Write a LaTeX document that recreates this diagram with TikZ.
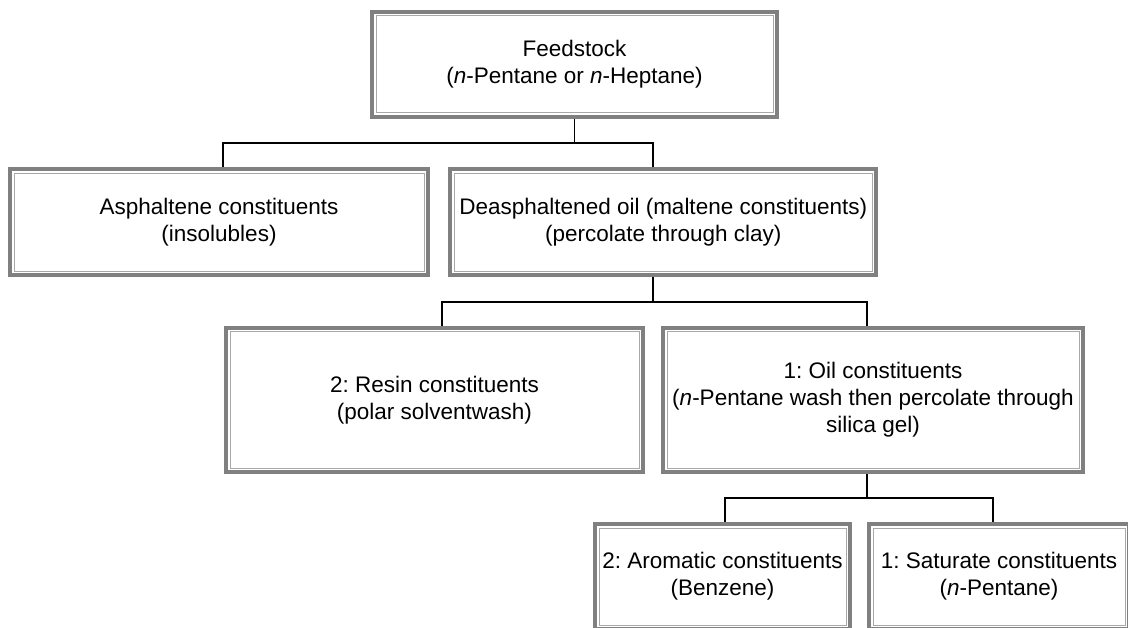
\documentclass[tikz,border=0pt]{standalone}
\usepackage{fontspec}
\setmainfont{Liberation Sans}
\frenchspacing
\definecolor{outergray}{HTML}{808080}
\definecolor{innergray}{HTML}{A8A8A8}
\pgfdeclarelayer{background}
\pgfsetlayers{background,main}
\tikzset{
  box/.style={draw=outergray, line width=4pt, inner sep=0pt, align=center,
    font=\fontsize{22.5}{27}\selectfont, text=black,
    path picture={\draw[innergray, line width=1pt]
      ([shift={(4pt,-4pt)}]path picture bounding box.north west) rectangle
      ([shift={(-4pt,4pt)}]path picture bounding box.south east);}},
  link/.style={draw=black, line width=1.1pt}
}
\begin{document}
\begin{tikzpicture}[x=1pt,y=-1pt]
\useasboundingbox (0,0) rectangle (1128,628);
\clip (0,0) rectangle (1128,628);
\node[box, minimum width=405pt, minimum height=105pt] (feed) at (574.5,64.5)
  {Feedstock\\(\textit{n}-Pentane or \textit{n}-Heptane)};
\node[box, minimum width=418pt, minimum height=106pt] (asph) at (219,222.5)
  {Asphaltene constituents\\(insolubles)};
\node[box, minimum width=426pt, minimum height=106pt] (deas) at (663.3,222.5)
  {Deasphaltened oil (maltene constituents)\\(percolate through clay)};
\node[box, minimum width=417pt, minimum height=144pt] (resin) at (434.5,400)
  {2: Resin constituents\\(polar solventwash)};
\node[box, minimum width=420pt, minimum height=144pt] (oil) at (873,400)
  {1: Oil constituents\\(\textit{n}-Pentane wash then percolate through\\silica gel)};
\node[box, minimum width=255pt, minimum height=105pt] (arom) at (722.5,576.5)
  {2: Aromatic constituents\\(Benzene)};
\node[box, minimum width=260pt, minimum height=105pt] (sat) at (999,576.5)
  {1: Saturate constituents\\(\textit{n}-Pentane)};
\coordinate (ja) at (223,143);
\coordinate (jd) at (653,143);
\coordinate (jr) at (442,302);
\coordinate (jo) at (867,302);
\coordinate (jar) at (725,498);
\coordinate (jsa) at (993,498);
\begin{pgfonlayer}{background}
\draw[link] (feed.south) -- (feed.south |- ja);
\draw[link] (asph.north -| ja) -- (ja) -- (jd) -- (deas.north -| jd);
\draw[link] (deas.south -| jd) -- (jd |- jr);
\draw[link] (resin.north -| jr) -- (jr) -- (jo) -- (oil.north -| jo);
\draw[link] (oil.south -| jo) -- (jo |- jar);
\draw[link] (arom.north -| jar) -- (jar) -- (jsa) -- (sat.north -| jsa);
\end{pgfonlayer}
\end{tikzpicture}
\end{document}
